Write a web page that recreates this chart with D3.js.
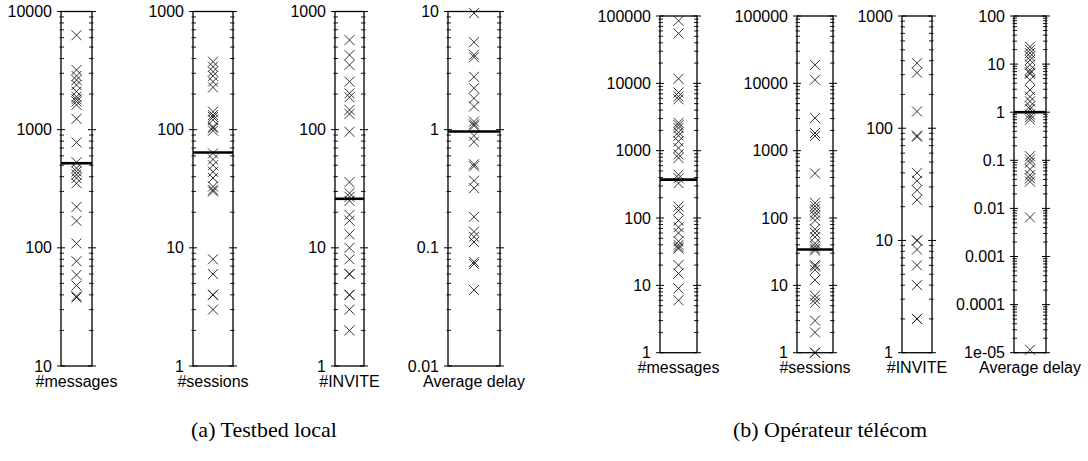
<html>
<head>
  <meta charset="utf-8">
  <script src="https://d3js.org/d3.v7.min.js"></script>
  <style>
    body { margin: 0; background: #fff; }
  </style>
</head>
<body>
<svg id="chart" width="1088" height="461"></svg>
<script>
// values
var categories = ["#messages", "#sessions", "#INVITE", "Average delay"];
var captions = ["(a) Testbed local", "(b) Opérateur télécom"];

var testbedMessages = [6300, 3200, 2850, 2630, 2390, 2100, 1900, 1810, 1730, 1620, 1235, 780,
                       530, 473, 443, 416, 389, 352, 222, 169, 109, 77, 59, 48, 39, 38];
var testbedSessions = [376, 341, 310, 285, 255, 228, 142, 133, 128, 121, 106, 103, 98,
                       63, 56, 50, 44, 39, 33, 31, 30, 8, 6, 4, 4, 3];
var testbedInvite   = [573, 428, 353, 255, 203, 188, 147, 136, 96, 36, 29, 27, 25,
                       19, 17, 13, 10, 8, 6, 6, 4, 4, 3, 2];
var testbedDelay    = [9.7, 5.5, 4.3, 4.1, 2.8, 2.24, 1.84, 1.57, 1.17, 1.11, 1.08, 0.89,
                       0.79, 0.51, 0.49, 0.37, 0.32, 0.183, 0.137, 0.124, 0.112, 0.076, 0.073, 0.044];

var operatorMessages = [85000, 55000, 11700, 7300, 6400, 5800, 2600, 2400, 2170, 1870, 1670,
                        1375, 1095, 880, 780, 440, 390, 330, 148, 130, 92, 73, 60, 45, 40,
                        37, 35, 20, 15, 9, 6];
var operatorSessions = [18800, 11300, 3050, 1830, 1650, 460, 168, 150, 135, 120, 108, 92, 68,
                        60, 52, 42, 38, 35, 33, 20, 19, 17, 12, 7, 6.2, 5.5, 3, 2, 1, 1];
var operatorInvite   = [380, 313, 141, 86, 84, 40, 34, 28, 23, 10, 10, 8.3, 6, 4, 2, 2];
var operatorDelay    = [23, 19.8, 16.9, 14.4, 12.2, 9.7, 7.6, 6.7, 6.3, 4.7, 2.9, 2.1, 1.68,
                        1.32, 1.16, 0.89, 0.79, 0.70, 0.122, 0.104, 0.09, 0.065, 0.049, 0.042,
                        0.036, 0.0065, 0.0000115];

var testbedMedians  = [520, 64, 26, 0.965];
var operatorMedians = [372, 34, null, 1.0];

var testbedTicks = [["10", "100", "1000", "10000"],
                    ["1", "10", "100", "1000"],
                    ["1", "10", "100", "1000"],
                    ["0.01", "0.1", "1", "10"]];
var operatorTicks = [["1", "10", "100", "1000", "10000", "100000"],
                     ["1", "10", "100", "1000", "10000", "100000"],
                     ["1", "10", "100", "1000"],
                     ["1e-05", "0.0001", "0.001", "0.01", "0.1", "1", "10", "100"]];

// layout
var groups = [
  { series: [testbedMessages, testbedSessions, testbedInvite, testbedDelay],
    medians: testbedMedians, ticks: testbedTicks, top: 11.5, bottom: 366,
    boxes: [[61, 92], [193, 233], [335, 364], [448, 500]], capX: 264 },
  { series: [operatorMessages, operatorSessions, operatorInvite, operatorDelay],
    medians: operatorMedians, ticks: operatorTicks, top: 16, bottom: 352.7,
    boxes: [[660, 697], [797, 833], [902, 932], [1014, 1046]], capX: 830 }
];

var svg = d3.select("#chart");
var font = "'Liberation Sans', Arial, Helvetica, sans-serif";

groups.forEach(function(grp, gi) {
  grp.series.forEach(function(vals, pi) {
    var ticks = grp.ticks[pi];
    var tv = ticks.map(Number);
    var x0 = grp.boxes[pi][0], x1 = grp.boxes[pi][1], cx = (x0 + x1) / 2;
    var y = d3.scaleLog().domain([tv[0], tv[tv.length - 1]]).range([grp.bottom, grp.top]);
    var g = svg.append("g");

    // minor ticks (2..9 in each decade), on both edges
    var minors = [];
    for (var i = 0; i < tv.length - 1; i++)
      for (var k = 2; k < 10; k++) minors.push(tv[i] * k);
    g.selectAll(".mnl").data(minors).enter().append("line")
      .attr("x1", x0 - 1.5).attr("x2", x0 + 3)
      .attr("y1", d => y(d)).attr("y2", d => y(d))
      .attr("stroke", "#000").attr("stroke-width", 0.9);
    g.selectAll(".mnr").data(minors).enter().append("line")
      .attr("x1", x1 - 3).attr("x2", x1 + 1.5)
      .attr("y1", d => y(d)).attr("y2", d => y(d))
      .attr("stroke", "#000").attr("stroke-width", 0.9);

    // major ticks crossing both edges
    [x0, x1].forEach(function(xe) {
      g.selectAll(null).data(tv).enter().append("line")
        .attr("x1", xe - 4).attr("x2", xe + 4)
        .attr("y1", d => y(d)).attr("y2", d => y(d))
        .attr("stroke", "#000").attr("stroke-width", 1);
    });

    // tick labels via d3 axis
    var ax = g.append("g").attr("transform", "translate(" + (x0 - 5) + ",0)")
      .call(d3.axisLeft(y).tickValues(tv).tickSize(0).tickPadding(4)
        .tickFormat((d, i) => ticks[i]));
    ax.select(".domain").remove();
    ax.selectAll("text").attr("font-family", font).attr("font-size", 16)
      .attr("fill", "#000");

    // crosses
    var s = 5;
    g.selectAll(".cross").data(vals).enter().append("path")
      .attr("d", d => "M" + (cx - s) + "," + (y(d) - s) + "L" + (cx + s) + "," + (y(d) + s) +
                      "M" + (cx - s) + "," + (y(d) + s) + "L" + (cx + s) + "," + (y(d) - s))
      .attr("stroke", "#111").attr("stroke-width", 0.85).attr("fill", "none");

    // box
    g.append("rect").attr("x", x0).attr("y", grp.top)
      .attr("width", x1 - x0).attr("height", grp.bottom - grp.top)
      .attr("fill", "none").attr("stroke", "#000").attr("stroke-width", 1.3);

    // median
    var m = grp.medians[pi];
    if (m != null) {
      g.append("line").attr("x1", x0).attr("x2", x1)
        .attr("y1", y(m)).attr("y2", y(m))
        .attr("stroke", "#000").attr("stroke-width", 2.6);
    }

    // category label
    g.append("text").attr("x", cx).attr("y", grp.bottom + 20.5)
      .attr("text-anchor", "middle").attr("font-family", font).attr("font-size", 16)
      .text(categories[pi]);
  });

  svg.append("text").attr("x", grp.capX).attr("y", 437)
    .attr("text-anchor", "middle")
    .attr("font-family", "'Liberation Serif', 'DejaVu Serif', serif")
    .attr("font-size", 22)
    .text(captions[gi]);
});
</script>
</body>
</html>
